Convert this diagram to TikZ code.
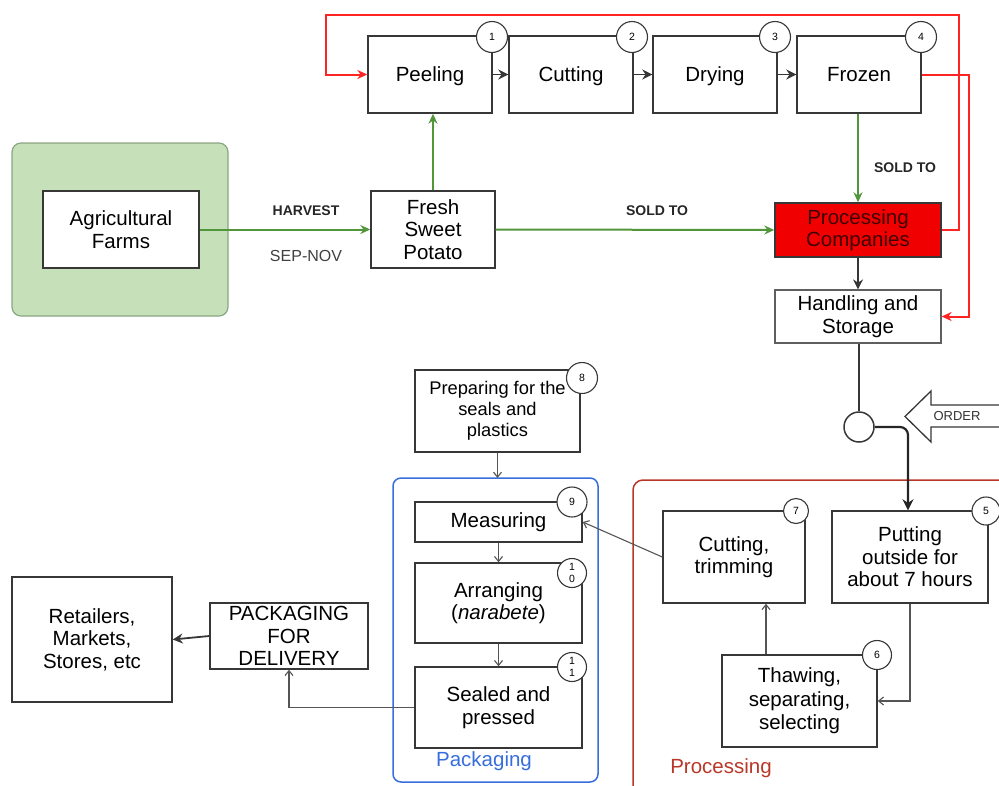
\documentclass[tikz,border=0pt]{standalone}
\usepackage{fontspec}
\setmainfont{Liberation Sans}
\usetikzlibrary{arrows.meta}

\definecolor{edgegray}{RGB}{55,55,55}
\definecolor{flowgreen}{RGB}{82,150,60}
\definecolor{farmfill}{RGB}{198,224,185}
\definecolor{farmedge}{RGB}{140,165,130}
\definecolor{loopred}{RGB}{255,35,35}
\definecolor{compred}{RGB}{240,0,0}
\definecolor{procred}{RGB}{185,55,40}
\definecolor{packblue}{RGB}{55,110,220}

\tikzset{
  stepbox/.style={draw=edgegray, line width=1.4pt, fill=white, inner sep=0pt,
    align=center, font=\fontsize{20.5}{22.5}\selectfont},
  badge/.style={circle, draw=edgegray, line width=1.1pt, fill=white, inner sep=0pt,
    minimum size=#1, font=\fontsize{10.5}{11}\selectfont, align=center},
  badge/.default=31pt,
  greenflow/.style={draw=flowgreen, line width=2pt, -{Stealth[length=10pt,width=9pt]}},
  blackflow/.style={draw=edgegray, line width=1.7pt, -{Stealth[length=10pt,width=10pt]}},
  redflow/.style={draw=loopred, line width=2pt, -{Stealth[length=10pt,width=9pt]}},
  thinflow/.style={draw=edgegray!85, line width=1.1pt, -{Straight Barb[length=5pt,width=8pt]}},
  flowlabel/.style={font=\bfseries\fontsize{14}{16}\selectfont, text=black!85},
}

\begin{document}
\begin{tikzpicture}[x=1pt,y=-1pt]
\useasboundingbox (0,0) rectangle (999,785);

% group frames
\node[draw=farmedge, line width=1.2pt, fill=farmfill, rounded corners=9pt,
      minimum width=216pt, minimum height=173pt] (farmgroup) at (120,229.5) {};
\draw[draw=procred, line width=1.5pt, rounded corners=10pt] (633,480) rectangle (1020,810);
\node[text=procred, font=\fontsize{20.5}{22}\selectfont] (proclabel) at (721,768) {Processing};
\draw[draw=packblue, line width=1.5pt, rounded corners=8pt] (393,478) rectangle (598,782);
\node[text=packblue, font=\fontsize{20.5}{22}\selectfont] (packlabel) at (484,761) {Packaging};

% upper chain
\node[stepbox, minimum width=156pt, minimum height=77pt] (farms) at (121,229.5) {Agricultural\\Farms};
\node[stepbox, minimum width=124pt, minimum height=77pt] (fresh) at (433,229.5) {Fresh\\Sweet\\Potato};
\node[stepbox, minimum width=124pt, minimum height=77pt, text depth=0pt] (peel) at (430,74.5) {Peeling};
\node[stepbox, minimum width=124pt, minimum height=77pt, text depth=0pt] (cut)  at (571,74.5) {Cutting};
\node[stepbox, minimum width=124pt, minimum height=77pt, text depth=0pt] (dry)  at (715,74.5) {Drying};
\node[stepbox, minimum width=124pt, minimum height=77pt] (froz) at (859,74.5) {Frozen};
\node[stepbox, fill=compred, text=black!75!red, minimum width=166pt, minimum height=54pt] (proc) at (858,230) {Processing\\Companies};
\node[stepbox, draw=edgegray!80, line width=1.2pt, minimum width=166pt, minimum height=53pt] (handl) at (858,316.5) {Handling and\\Storage};

\node[badge] (b1) at (492,37) {1};
\node[badge] (b2) at (632,37) {2};
\node[badge] (b3) at (775,37) {3};
\node[badge] (b4) at (921,37) {4};

% junction and incoming order
\node[circle, draw=edgegray, line width=1.5pt, fill=white, minimum size=30pt, inner sep=0pt] (junc) at (859,427) {};
\draw[draw=edgegray, line width=1.3pt, fill=white]
  (1010,405) -- (931,405) -- (931,391) -- (905,416.5) -- (931,442) -- (931,427) -- (1010,427);
\node[font=\fontsize{13}{14}\selectfont, text=black!80] (order) at (957,416) {ORDER};

% processing steps
\node[stepbox, minimum width=156pt, minimum height=92pt] (putout) at (910,557) {Putting\\outside for\\about 7 hours};
\node[stepbox, minimum width=155pt, minimum height=92pt, font=\fontsize{20.5}{23.5}\selectfont] (thaw) at (799.5,701) {Thawing,\\separating,\\selecting};
\node[stepbox, minimum width=142pt, minimum height=92pt] (cuttrim) at (734,557) {Cutting,\\trimming};
\node[badge=28pt] (b5) at (986,511) {5};
\node[badge=29pt] (b6) at (877,655) {6};
\node[badge=25pt] (b7) at (796,511) {7};

% packaging steps
\node[stepbox, minimum width=165pt, minimum height=82pt, font=\fontsize{18.3}{21}\selectfont] (prep) at (497.5,411) {Preparing for the\\seals and\\plastics};
\node[stepbox, minimum width=167pt, minimum height=40pt] (meas) at (498.5,522) {Measuring};
\node[stepbox, minimum width=167pt, minimum height=80pt] (arr) at (498.5,603) {Arranging\\(\textit{narabete})};
\node[stepbox, minimum width=167pt, minimum height=81pt] (seal) at (498.5,707.5) {Sealed and\\pressed};
\node[badge=31pt] (b8) at (582,378) {8};
\node[badge=30pt] (b9) at (572,502) {9};
\node[badge=29pt, font=\fontsize{10.5}{12}\selectfont] (b10) at (572,573) {1\\0};
\node[badge=29pt, font=\fontsize{10.5}{12}\selectfont] (b11) at (572,667) {1\\1};

% delivery
\node[stepbox, minimum width=158pt, minimum height=66pt] (pkgdel) at (289,636) {PACKAGING\\FOR\\DELIVERY};
\node[stepbox, minimum width=160pt, minimum height=125pt] (retail) at (92,639.5) {Retailers,\\Markets,\\Stores, etc};

% green flows
\draw[greenflow] (farms.east) -- (fresh.west);
\node[flowlabel] (harvest) at (306,211) {HARVEST};
\node[font=\fontsize{16}{18}\selectfont, text=black!75] (season) at (306,256) {SEP-NOV};
\draw[greenflow] (fresh.north) -- (fresh.north |- peel.south);
\draw[greenflow] (fresh.east) -- (proc.west);
\node[flowlabel] (sold1) at (657,211) {SOLD TO};
\draw[greenflow] (froz.south -| proc.north) -- (proc.north);
\node[flowlabel] (sold2) at (905,168) {SOLD TO};

% chain arrows
\draw[blackflow] (peel.east) -- (cut.west);
\draw[blackflow] (cut.east) -- (dry.west);
\draw[blackflow] (dry.east) -- (froz.west);
\draw[blackflow] (proc.south) -- (handl.north);

% red loops
\draw[redflow] (proc.east) -- (959,230) -- (959,15) -- (326,15) -- (326,74.5) -- (peel.west);
\draw[redflow] (froz.east) -- (969,74.5) -- (969,316.5) -- (handl.east);

% order release
\draw[draw=edgegray, line width=2.2pt] (handl.south -| junc.north) -- (junc.north);
\draw[draw=black!85, line width=2.2pt, rounded corners=8pt, -{Stealth[length=11pt,width=11pt]}]
  (junc.east) -- (908,427) -- (putout.north -| 908,0);

% processing flow
\draw[thinflow] (putout.south) -- (putout.south |- thaw.east) -- (thaw.east);
\draw[thinflow] ([xshift=-33.5pt]thaw.north) -- ([xshift=-33.5pt]thaw.north |- cuttrim.south);
\draw[thinflow] (cuttrim.west) -- (meas.east);

% packaging flow
\draw[thinflow] (prep.south) -- (prep.south |- 0,478);
\draw[thinflow] (meas.south) -- (arr.north);
\draw[thinflow] (arr.south) -- (seal.north);
\draw[thinflow] (seal.west) -- (seal.west -| pkgdel.south) -- (pkgdel.south);
\draw[blackflow, line width=1.8pt] (pkgdel.west) -- (retail.east);
\end{tikzpicture}
\end{document}
